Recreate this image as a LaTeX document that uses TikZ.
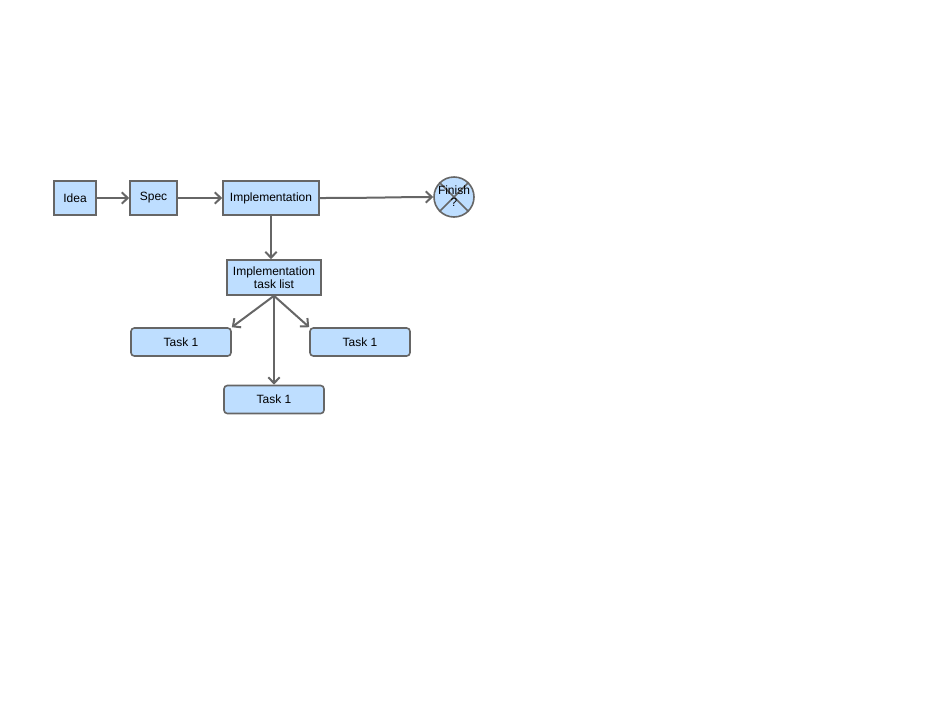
\documentclass[tikz,border=0pt]{standalone}
\usepackage{fontspec}
\setmainfont{Liberation Sans}
\usetikzlibrary{arrows.meta}
\definecolor{boxfill}{RGB}{190,222,255}
\definecolor{boxline}{RGB}{102,102,102}
\tikzset{
  stepbox/.style={draw=boxline, fill=boxfill, line width=1.2pt, inner sep=1pt, minimum height=25.5pt, align=center, font=\fontsize{9}{10}\selectfont},
  taskbox/.style={stepbox, rounded corners=2.5pt, minimum width=75pt, minimum height=21pt},
  flow/.style={draw=boxline, line width=1.5pt, -{Straight Barb[length=4.5pt,width=8.5pt]}}
}
\begin{document}
\begin{tikzpicture}[x=0.75pt,y=0.75pt,yscale=-1,xscale=1]
\useasboundingbox (0,0) rectangle (942,707);

%Shape: Rectangle [id:idea]
\node [stepbox, minimum width=31.5pt] (idea) at (75,198) {Idea};
%Shape: Rectangle [id:spec]
\node [stepbox, minimum width=35.25pt] (spec) at (153.5,198) {Spec};
%Shape: Rectangle [id:impl]
\node [stepbox, minimum width=72pt] (impl) at (271,198) {Implementation};
%Shape: Circle [id:finish]
\node [stepbox, circle, minimum size=30pt, inner sep=0pt, font=\fontsize{9}{9}\selectfont] (finish) at (454,197) {};
\draw [draw=boxline, line width=1.2pt] (finish.north west) -- (finish.south east) (finish.north east) -- (finish.south west);
\node [align=center, inner sep=0pt, font=\fontsize{9}{9}\selectfont] (finishtext) at (454,196) {Finish\\?};
%Shape: Rectangle [id:tasklist]
\node [stepbox, minimum width=70.5pt, minimum height=26.25pt] (tasklist) at (274,277.5) {Implementation\\task list};
%Shape: Rounded Rect [id:tasks]
\node [taskbox] (taskl) at (181,342) {Task 1};
\node [taskbox] (taskr) at (360,342) {Task 1};
\node [taskbox] (taskb) at (274,399.5) {Task 1};

%Connectors
\draw [flow] (idea) -- (spec);
\draw [flow] (spec) -- (impl);
\draw [flow] (impl.east) .. controls (378,198) and (398,197) .. (finish.west);
\draw [flow] (impl.south) -- (tasklist.north -| impl.south);
\draw [flow] (tasklist.south) -- (taskl.north east);
\draw [flow] (tasklist.south) -- (taskr.north west);
\draw [flow] (tasklist.south) -- (taskb.north);

\end{tikzpicture}
\end{document}
